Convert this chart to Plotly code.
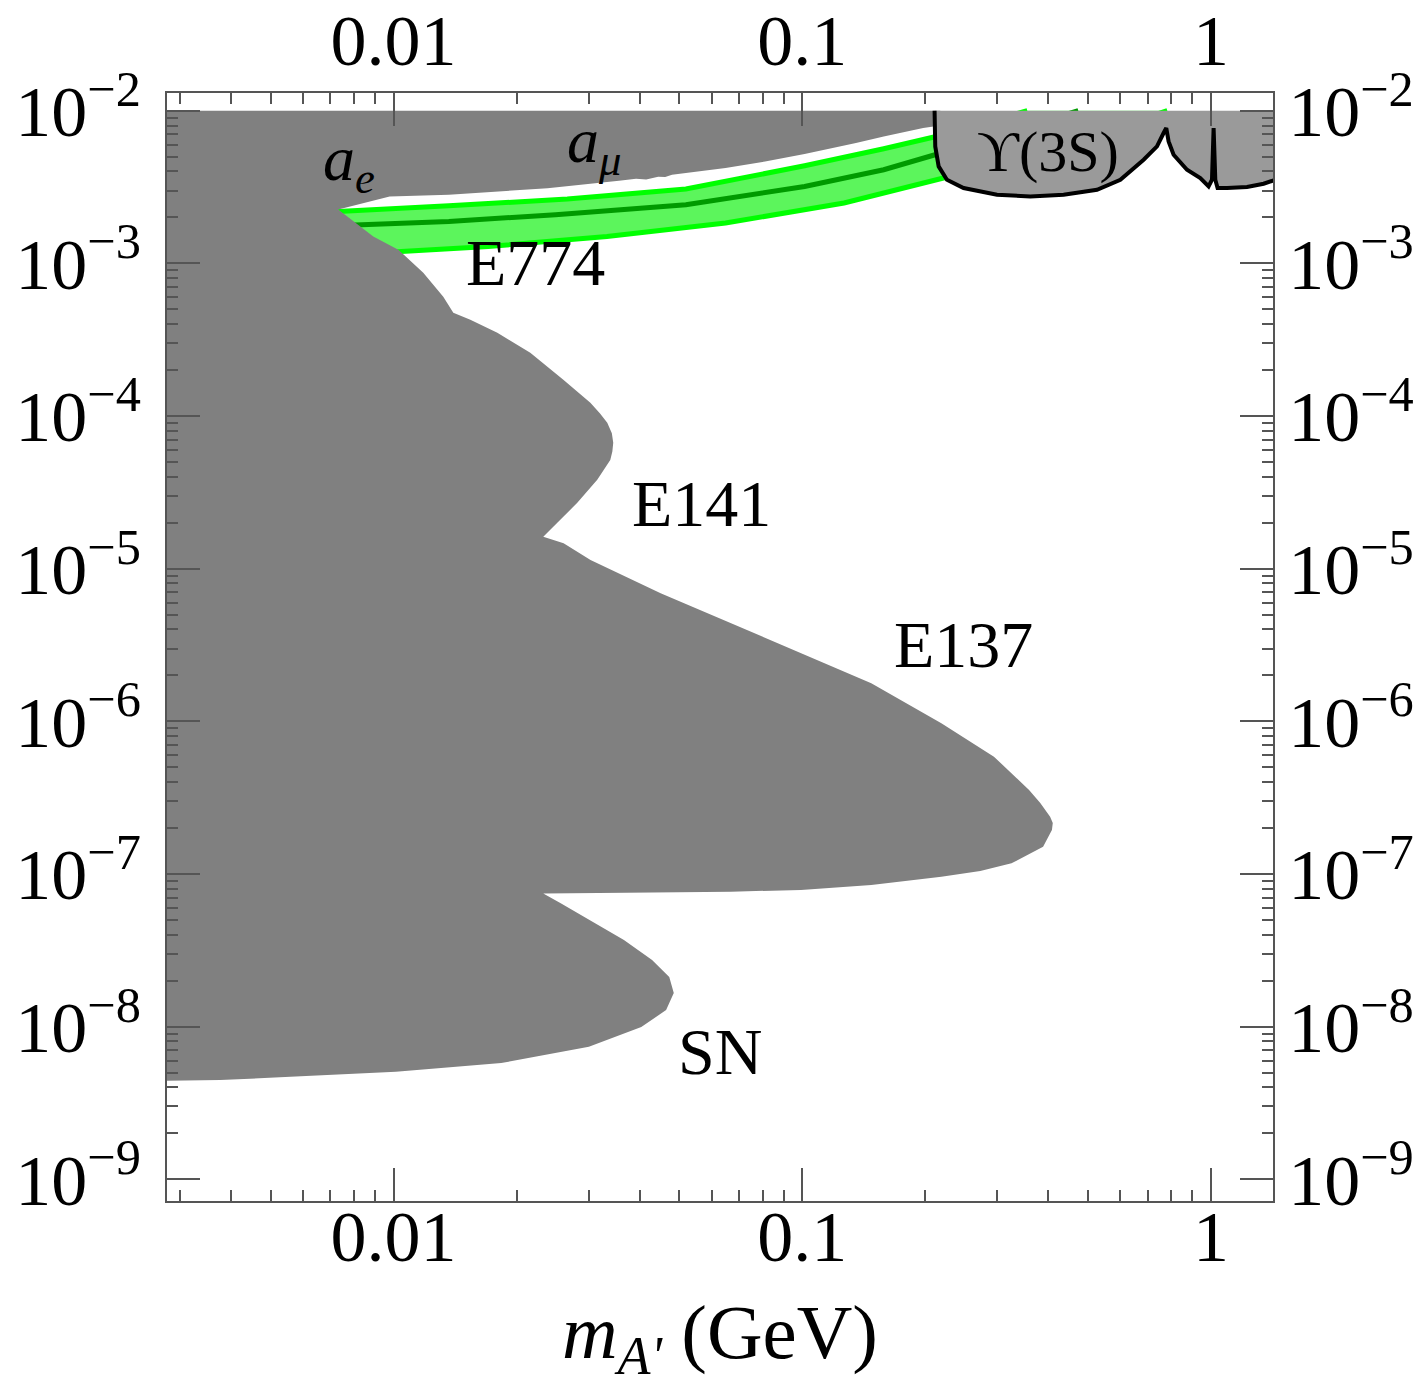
import numpy as np
import plotly.graph_objects as go

FONT = "Liberation Serif"
GRAY = "#808080"

# Combined excluded region (a_e, a_mu, E774, E141, E137, SN), traced clockwise.
excl_mass = [
    0.0025, 0.2177, 0.2177, 0.2089, 0.1976, 0.1582, 0.1353, 0.1013, 0.0811, 0.0649,
    0.0519, 0.0480, 0.0462, 0.0444, 0.0415, 0.0392, 0.0356, 0.0238, 0.01365, 0.00978,
    0.00875, 0.00732,
    0.00892, 0.01027, 0.01182, 0.01323, 0.01400, 0.01541, 0.01794, 0.02160, 0.02602,
    0.03030, 0.03200, 0.03333, 0.03420, 0.03447, 0.03430, 0.03390, 0.03150, 0.02815,
    0.02515, 0.02324,
    0.02606, 0.03033, 0.04502, 0.06685, 0.09926, 0.1475, 0.2189, 0.2944, 0.3588,
    0.3822, 0.4040, 0.4101, 0.4081, 0.3883, 0.3250, 0.2726, 0.2189, 0.1475, 0.09926,
    0.06685, 0.03695, 0.02746, 0.02324,
    0.02558, 0.03005, 0.03661, 0.04290, 0.04726, 0.04848, 0.04643, 0.04037, 0.03486,
    0.03005, 0.01834, 0.01013, 0.005590, 0.003767, 0.0025,
]
excl_eps = [
    1.0e-2, 1.0e-2, 8.00e-3, 7.89e-3, 7.70e-3, 6.79e-3, 6.14e-3, 5.20e-3, 4.65e-3, 4.21e-3,
    3.87e-3, 3.80e-3, 3.68e-3, 3.70e-3, 3.54e-3, 3.58e-3, 3.48e-3, 3.11e-3, 2.81e-3, 2.74e-3,
    2.54e-3, 2.25e-3,
    1.50e-3, 1.23e-3, 8.68e-4, 6.04e-4, 4.75e-4, 4.27e-4, 3.51e-4, 2.60e-4, 1.73e-4,
    1.22e-4, 1.04e-4, 9.02e-5, 7.70e-5, 6.68e-5, 5.85e-5, 5.16e-5, 3.82e-5, 2.70e-5,
    2.00e-5, 1.616e-5,
    1.469e-5, 1.142e-5, 6.91e-6, 4.39e-6, 2.795e-6, 1.777e-6, 9.72e-7, 5.87e-7, 3.553e-7,
    2.920e-7, 2.374e-7, 2.159e-7, 1.942e-7, 1.510e-7, 1.175e-7, 1.046e-7, 9.60e-8, 8.47e-8, 7.86e-8,
    7.66e-8, 7.55e-8, 7.47e-8, 7.45e-8,
    6.46e-8, 4.996e-8, 3.693e-8, 2.732e-8, 2.113e-8, 1.661e-8, 1.285e-8, 9.94e-9, 8.55e-9,
    7.38e-9, 5.77e-9, 5.06e-9, 4.69e-9, 4.47e-9, 4.40e-9,
]

# (g-2)_mu favoured band: upper edge, lower edge and central value
band_upper_mass = [0.0026, 0.00446, 0.00732, 0.01365, 0.02661, 0.0519, 0.1013, 0.1582, 0.2113, 0.2726, 0.3552]
band_upper_eps = [2.051e-3, 2.113e-3, 2.188e-3, 2.385e-3, 2.638e-3, 3.068e-3, 4.361e-3, 5.636e-3, 6.756e-3, 8.219e-3, 1.0e-2]
band_lower_mass = [0.0026, 0.00446, 0.00732, 0.01044, 0.01705, 0.03327, 0.0649, 0.1265, 0.2113, 0.3050, 0.4788, 0.7817]
band_lower_eps = [1.024e-3, 1.056e-3, 1.105e-3, 1.197e-3, 1.290e-3, 1.501e-3, 1.837e-3, 2.484e-3, 3.530e-3, 4.495e-3, 6.457e-3, 1.0e-2]
band_mid_mass = [0.0026, 0.00446, 0.008364, 0.01365, 0.02490, 0.0519, 0.1013, 0.1582, 0.2113, 0.3050, 0.4734]
band_mid_eps = [1.661e-3, 1.686e-3, 1.790e-3, 1.882e-3, 2.082e-3, 2.421e-3, 3.190e-3, 4.105e-3, 5.148e-3, 6.963e-3, 1.0e-2]

# Upsilon(3S) -> gamma mu mu bound
ups_mass = [0.2107, 0.2115, 0.2156, 0.2259, 0.2481, 0.2995, 0.3613, 0.4358, 0.5261, 0.6001,
            0.6842, 0.7377, 0.7656, 0.7773, 0.7875, 0.8100, 0.8735, 0.9414, 0.9865, 1.0055,
            1.0148, 1.0245, 1.0378, 1.0944, 1.2249, 1.345, 1.4366]
ups_eps = [1.0e-2, 5.834e-3, 4.315e-3, 3.530e-3, 3.114e-3, 2.814e-3, 2.743e-3, 2.814e-3, 3.036e-3, 3.530e-3,
           4.773e-3, 5.834e-3, 7.144e-3, 7.70e-3, 6.292e-3, 5.148e-3, 4.105e-3, 3.622e-3, 3.190e-3, 3.530e-3,
           7.70e-3, 3.530e-3, 3.114e-3, 3.114e-3, 3.162e-3, 3.323e-3, 3.530e-3]
EPS_CEIL = 1.0e-2

# Region labels
label_text = ["<i>a</i><sub><i>e</i></sub>", "<i>a</i><sub><i>μ</i></sub>", "E774", "E141",
              "E137", "SN", "ϒ(3S)"]
label_mass = [0.00779, 0.03098, 0.02222, 0.05661, 0.2477, 0.0630, 0.3999]
label_eps = [4.563e-3, 5.988e-3, 1.009e-3, 2.658e-5, 3.168e-6, 6.92e-9, 5.387e-3]
label_size = [64, 64, 66, 66, 66, 66, 58]

# Axis ticks
x_major = [0.01, 0.1, 1]
x_major_text = ["0.01", "0.1", "1"]
x_minor = [k * 10.0 ** e for e in (-3, -2, -1) for k in range(2, 10) if k * 10.0 ** e > 0.0028]
y_major = [10.0 ** e for e in range(-9, -1)]
y_major_text = [f"10<sup>−{-e}</sup>" for e in range(-9, -1)]
y_minor = [k * 10.0 ** e for e in range(-9, -2) for k in range(2, 10)]

X_RANGE = [-2.5544, 0.1517]
Y_RANGE = [-9.142, -1.884]

fig = go.Figure()

# favoured band (drawn first; the exclusions cover it)
fig.add_trace(go.Scatter(
    x=band_upper_mass + band_lower_mass[::-1], y=band_upper_eps + band_lower_eps[::-1],
    fill="toself", fillcolor="#5cf55c", line=dict(width=0), mode="lines",
    hoverinfo="skip", showlegend=False))
for bx, by in ((band_upper_mass, band_upper_eps), (band_lower_mass, band_lower_eps)):
    fig.add_trace(go.Scatter(x=bx, y=by, mode="lines", line=dict(color="#00ff00", width=5),
                             hoverinfo="skip", showlegend=False))
fig.add_trace(go.Scatter(x=band_mid_mass, y=band_mid_eps, mode="lines",
                         line=dict(color="#009a00", width=5), hoverinfo="skip", showlegend=False))

# excluded region
fig.add_trace(go.Scatter(x=excl_mass, y=excl_eps, fill="toself", fillcolor=GRAY,
                         line=dict(width=0), mode="lines", hoverinfo="skip", showlegend=False))

# Upsilon(3S) region: fill up to the top, black outline on the secondary axes
fig.add_trace(go.Scatter(
    x=ups_mass + [ups_mass[-1], ups_mass[0]], y=ups_eps + [EPS_CEIL, EPS_CEIL],
    fill="toself", fillcolor="#9a9a9a", line=dict(width=0), mode="lines",
    hoverinfo="skip", showlegend=False))
fig.add_trace(go.Scatter(x=ups_mass, y=ups_eps, mode="lines",
                         line=dict(color="black", width=4), xaxis="x2", yaxis="y2",
                         hoverinfo="skip", showlegend=False))

for t, m, e, s in zip(label_text, label_mass, label_eps, label_size):
    fig.add_annotation(x=np.log10(m), y=np.log10(e), text=t, showarrow=False,
                       xanchor="center", yanchor="middle",
                       font=dict(family=FONT, size=s, color="black"))

tick_font = dict(family=FONT, size=72, color="black")
axis_common = dict(
    type="log", ticks="inside", ticklen=33, tickwidth=1.5, tickcolor="#555",
    showline=True, linecolor="#555", linewidth=1.5, showgrid=False, zeroline=False,
    tickfont=tick_font, tickmode="array", automargin=False,
)


def minor_ticks(vals):
    return dict(tickmode="array", tickvals=vals, ticks="inside", ticklen=11,
                tickwidth=1.5, tickcolor="#555", showgrid=False)


fig.update_layout(
    width=1428, height=1386,
    margin=dict(l=167, r=155, t=93, b=185),
    paper_bgcolor="white", plot_bgcolor="white",
    xaxis=dict(axis_common, range=X_RANGE, tickvals=x_major, ticktext=x_major_text,
               ticklabelstandoff=-28, minor=minor_ticks(x_minor),
               title=dict(text="<i>m</i><sub><i>A'</i></sub> (GeV)",
                          font=dict(family=FONT, size=77, color="black"), standoff=63)),
    xaxis2=dict(axis_common, range=X_RANGE, tickvals=x_major, ticktext=x_major_text,
                overlaying="x", side="top", anchor="y", ticklabelstandoff=-3,
                minor=minor_ticks(x_minor)),
    yaxis=dict(axis_common, range=Y_RANGE, tickvals=y_major, ticktext=y_major_text,
               ticklabelstandoff=10, minor=minor_ticks(y_minor)),
    yaxis2=dict(axis_common, range=Y_RANGE, tickvals=y_major, ticktext=y_major_text,
                overlaying="y", side="right", anchor="x", ticklabelstandoff=-1,
                minor=minor_ticks(y_minor)),
)

fig.write_html("out.html")
